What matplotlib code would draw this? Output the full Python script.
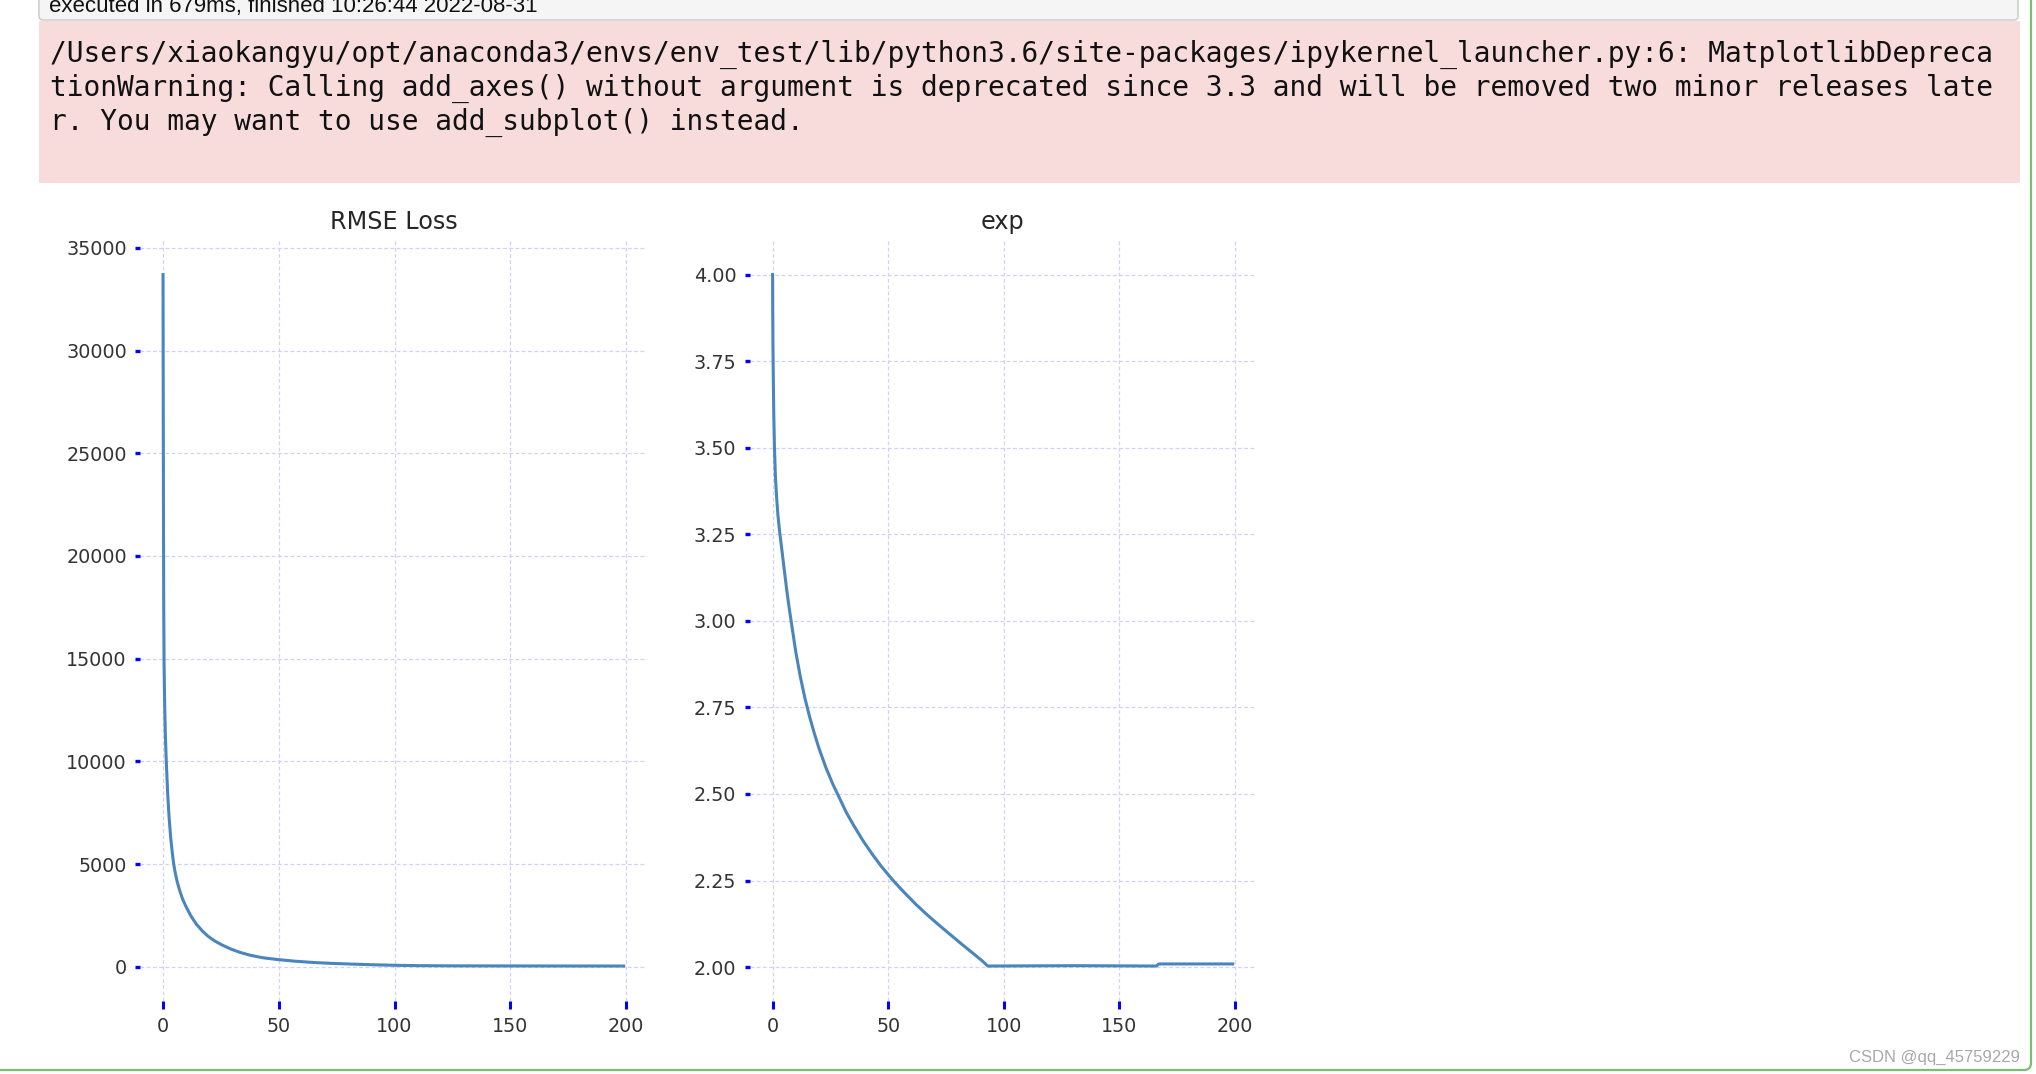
import matplotlib
matplotlib.use("Agg")
import matplotlib.pyplot as plt
from matplotlib.patches import FancyBboxPatch, Rectangle
from matplotlib.transforms import IdentityTransform

# RMSE loss curve (epoch, loss)
loss_x = [0, 0.1, 0.2, 0.3, 0.45, 0.7, 1.0, 1.4, 2.0, 2.6, 3.3, 4.0, 4.6, 5.3,
          6.2, 7.2, 8.5, 10.1, 12, 14.4, 17, 19.5, 22.3, 25.5, 29, 33, 37.5, 43,
          50, 57, 65, 73, 81, 90, 100, 110, 125, 150, 175, 199]
loss_y = [33700, 27000, 21500, 17500, 14800, 12800, 11300, 10000, 8450, 7300,
          6300, 5550, 5000, 4560, 4100, 3710, 3280, 2890, 2480, 2075, 1740, 1480,
          1260, 1060, 878, 710, 566, 440, 345, 272, 208, 164, 132, 100, 72, 55,
          45, 40, 38, 36]

# exp curve
exp_x = [0, 0.05, 0.15, 0.3, 0.5, 0.8, 1.2, 1.7, 2.3, 3.0, 4.0, 5.0, 6.0, 7.0,
         8, 10, 12, 14, 16, 18, 20, 23, 26, 29, 32, 35, 39, 43, 47, 52, 57, 62,
         67, 72, 77, 82, 87, 91, 93, 130, 166, 167, 199]
exp_y = [4.0, 3.9, 3.8, 3.7, 3.6, 3.5, 3.42, 3.36, 3.305, 3.26, 3.205, 3.15,
         3.095, 3.045, 3.0, 2.911, 2.838, 2.776, 2.723, 2.676, 2.633, 2.577,
         2.529, 2.487, 2.445, 2.41, 2.366, 2.327, 2.291, 2.251, 2.215, 2.181,
         2.15, 2.121, 2.093, 2.065, 2.038, 2.016, 2.003, 2.004, 2.003, 2.009,
         2.009]

x_ticks = [0, 50, 100, 150, 200]
loss_ticks = [0, 5000, 10000, 15000, 20000, 25000, 30000, 35000]
exp_ticks = [2.0, 2.25, 2.5, 2.75, 3.0, 3.25, 3.5, 3.75, 4.0]

warning_lines = [
    "/Users/xiaokangyu/opt/anaconda3/envs/env_test/lib/python3.6/site-packages/ipykernel_launcher.py:6: MatplotlibDepreca",
    "tionWarning: Calling add_axes() without argument is deprecated since 3.3 and will be removed two minor releases late",
    "r. You may want to use add_subplot() instead.",
]
header_text = "executed in 679ms, finished 10:26:44 2022-08-31"
watermark = "CSDN @qq_45759229"

W, H = 2036, 1074
fig = plt.figure(figsize=(W / 100, H / 100), dpi=100)
fig.patch.set_facecolor("white")


def frac(x0, y0, x1, y1):
    # pixel box (top-left origin) -> figure fraction rect
    return [x0 / W, 1 - y1 / H, (x1 - x0) / W, (y1 - y0) / H]


def px_patch(x0, y0, x1, y1, rounding, **kw):
    return FancyBboxPatch((x0, H - y1), x1 - x0, y1 - y0,
                          boxstyle=f"round,pad=0,rounding_size={rounding}",
                          transform=IdentityTransform(), **kw)


# notebook cell decorations
fig.add_artist(px_patch(39, -12, 2018, 20, 4, fc="#f5f5f5", ec="#c8c8c8", lw=1))
fig.add_artist(Rectangle((39, H - 183), 2020 - 39, 183 - 21, fc="#f8dcdc", ec="none",
                         transform=IdentityTransform()))
fig.add_artist(px_patch(-20, -20, 2031, 1070, 7, fc="none", ec="#7abf70", lw=1.6))

fig.text(49 / W, 1 - 12 / H, header_text, fontsize=16, family="Liberation Sans",
         color="#111111", va="baseline", ha="left")
for i, line in enumerate(warning_lines):
    fig.text(50 / W, 1 - (62 + 34 * i) / H, line, fontsize=20.1,
             family="DejaVu Sans Mono", color="#111111", va="baseline", ha="left")
fig.text(2020 / W, 1 - 1062 / H, watermark, fontsize=12, family="Liberation Sans",
         color="#a8a8a8", va="baseline", ha="right")

ax1 = fig.add_axes(frac(140, 240, 646.7, 1000.6))
ax2 = fig.add_axes(frac(749.6, 240, 1255.7, 1000.6))

panels = [(ax1, loss_x, loss_y, "RMSE Loss", loss_ticks),
          (ax2, exp_x, exp_y, "exp", exp_ticks)]
for ax, xs, ys, title, yt in panels:
    ax.plot(xs, ys, color="#4a85bc", lw=2.2)
    ax.set_title(title, fontsize=17.2, color="#262626", pad=8)
    ax.grid(True, color="#d0d0fa", linestyle=(0, (3, 2)), linewidth=0.9)
    for s in ax.spines.values():
        s.set_visible(False)
    ax.set_xticks(x_ticks)
    ax.set_yticks(yt)
    ax.tick_params(axis="x", colors="#0000ff", length=5.5, width=2.2,
                   labelcolor="#333333", labelsize=13.8, pad=6.5)
    ax.tick_params(axis="y", colors="#0000ff", length=3.5, width=2.4,
                   labelcolor="#333333", labelsize=13.8, pad=6)

fig.savefig("out.png", dpi=100)
